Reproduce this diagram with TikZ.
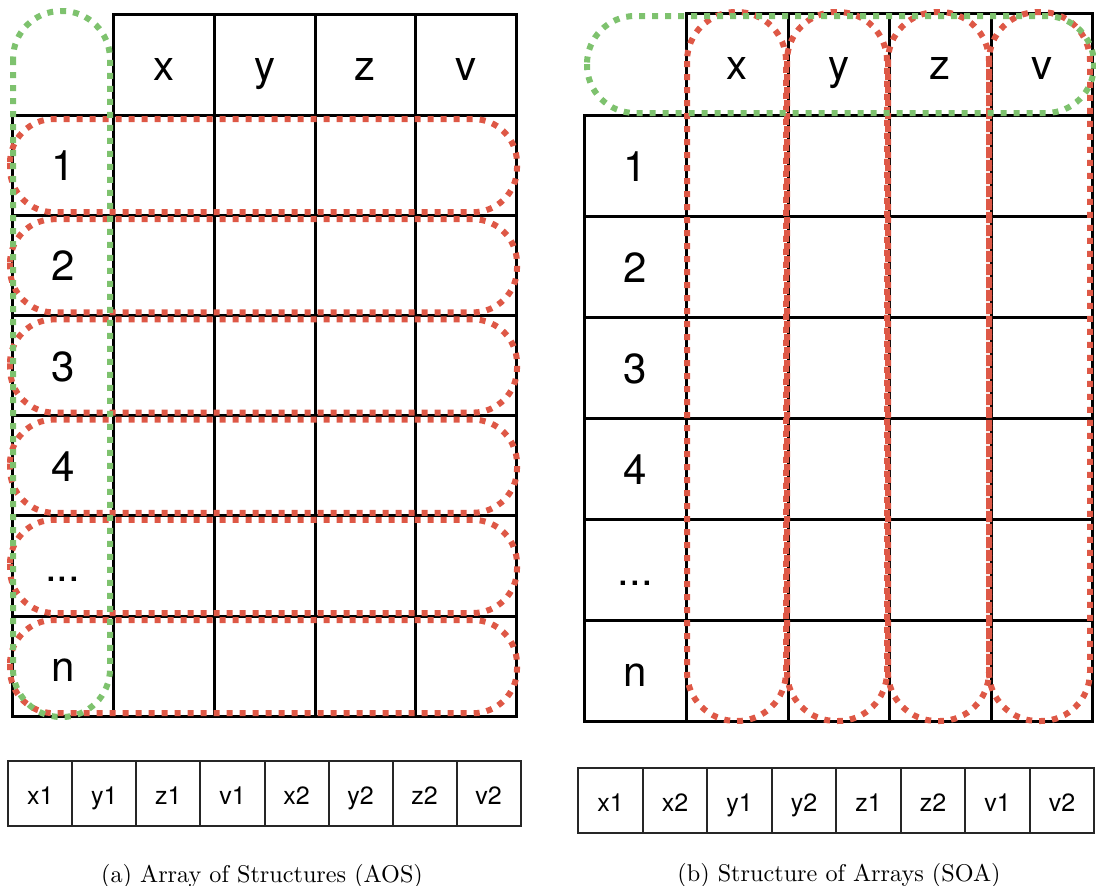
\documentclass[tikz,border=0pt]{standalone}
\usepackage{fontspec}
\newfontfamily\hv{TeX Gyre Heros}
\newfontfamily\capfont{lmroman10-regular}[Extension=.otf]
\definecolor{dred}{RGB}{222,88,70}
\definecolor{dgreen}{RGB}{126,194,110}
\newcommand\mydots{...}
\begin{document}
\begin{tikzpicture}[x=1pt,y=-1pt,
  cell/.style={draw=black,line width=3pt,inner sep=0pt,font=\hv\fontsize{42}{42}\selectfont,text height=31pt,text depth=0pt},
  mem/.style={draw=black!85,line width=2pt,inner sep=0pt,font=\hv\fontsize{25}{25}\selectfont,text height=22pt,text depth=0pt},
  reddot/.style={draw=dred,line width=6pt,dash pattern=on 6pt off 7pt},
  greendot/.style={draw=dgreen,line width=6pt,dash pattern=on 6pt off 7pt},
  caption/.style={font=\capfont\fontsize{24.2}{29}\selectfont,anchor=base}]
\useasboundingbox (0,0) rectangle (1096,886);
% ---------- left table (AOS) ----------
\foreach \lab [count=\i] in {x,y,z,v}
  \node[cell,minimum width=100.9pt,minimum height=101pt] (Lh\i) at ({12.3+100.9*(\i+0.5)},64.5) {\lab};
\foreach \lab [count=\r] in {1,2,3,4,\mydots,n}{
  \node[cell,minimum width=100.9pt,minimum height=100.2pt] (L\r-0) at ({12.3+50.45},{115+100.2*(\r-0.5)}) {\lab};
  \foreach \c in {1,2,3,4}
    \node[cell,minimum width=100.9pt,minimum height=100.2pt] (L\r-\c) at ({12.3+100.9*(\c+0.5)},{115+100.2*(\r-0.5)}) {};
}
% ---------- right table (SOA) ----------
\foreach \lab [count=\i] in {x,y,z,v}
  \node[cell,minimum width=101.5pt,minimum height=101.7pt] (Rh\i) at ({686.7+101.5*(\i-0.5)},64.15) {\lab};
\foreach \lab [count=\r] in {1,2,3,4,\mydots,n}{
  \node[cell,minimum width=102.4pt,minimum height=101pt] (R\r-0) at (635.5,{115+101*(\r-0.5)}) {\lab};
  \foreach \c in {1,2,3,4}
    \node[cell,minimum width=101.5pt,minimum height=101pt] (R\r-\c) at ({686.7+101.5*(\c-0.5)},{115+101*(\r-0.5)}) {};
}
% ---------- memory layouts ----------
\foreach \lab [count=\i] in {x1,y1,z1,v1,x2,y2,z2,v2}
  \node[mem,minimum width=64.05pt,minimum height=64.7pt] (LM\i) at ({8.3+64.05*(\i-0.5)},793.35) {\lab};
\foreach \lab [count=\i] in {x1,x2,y1,y2,z1,z2,v1,v2}
  \node[mem,minimum width=64.5pt,minimum height=64.4pt] (RM\i) at ({578.3+64.5*(\i-0.5)},800.5) {\lab};
% ---------- groupings ----------
\foreach \r in {1,...,6}
  \draw[reddot,rounded corners=44pt] (10,{115+100.2*(\r-1)+4}) rectangle (517,{115+100.2*\r-3});
\draw[greendot,rounded corners=48pt] (13,11) rectangle (110,717);
\foreach \a/\b in {687/786,787/887,888/989,989/1090}
  \draw[reddot,rounded corners=49pt] (\a,12) rectangle (\b,721);
\draw[greendot,rounded corners=48pt] (587,16) rectangle (1094,113);
% ---------- captions ----------
\node[caption] (capa) at (262,882) {(a) Array of Structures (AOS)};
\node[caption] (capb) at (839,881) {(b) Structure of Arrays (SOA)};
\end{tikzpicture}
\end{document}
